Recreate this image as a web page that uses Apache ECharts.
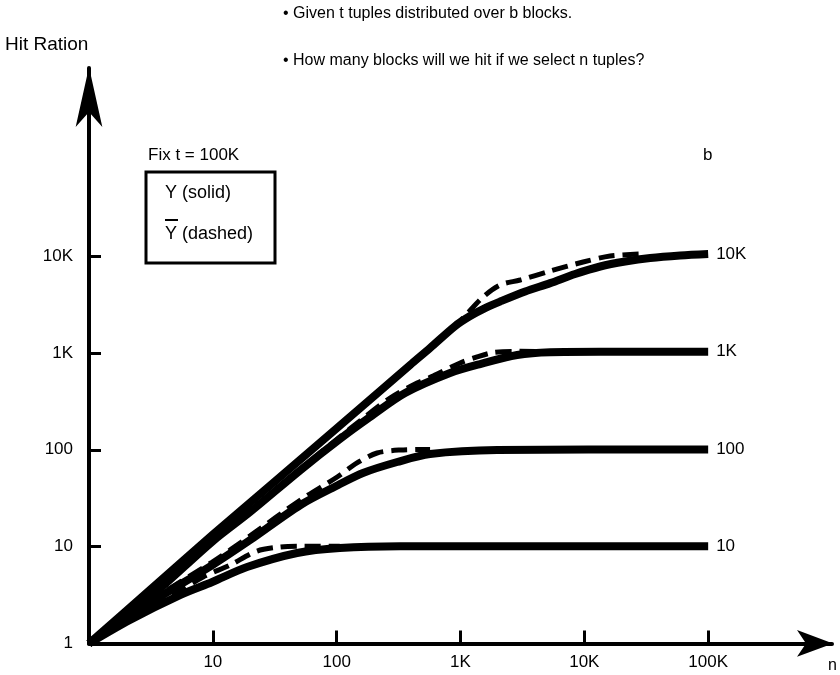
<!DOCTYPE html>
<html><head><meta charset="utf-8">
<script src="https://cdn.jsdelivr.net/npm/echarts@6/dist/echarts.min.js"></script>
<style>html,body{margin:0;padding:0;background:#fff}#c{width:840px;height:675px}</style>
</head><body><div id="c"></div>
<script>
// ---- data (n tuples selected -> blocks hit) ----
const xTickValues = [10, 100, 1000, 10000, 100000];
const yTickValues = [10, 100, 1000, 10000];
const yLabelValues = [1, 10, 100, 1000, 10000];
const blockNames = ['10K', '1K', '100', '10'];

const solid10K = [[1,1],[3.1,3.56],[9.9,13.2],[32,47.6],[103,172],[224,405],[392,752],[568,1127],[904,1900],[1196,2411],[1580,2916],[2090,3404],[3330,4318],[5300,5270],[8430,6550],[13430,7830],[21360,8810],[34040,9580],[59400,10170],[100000,10540]];
const dashed10K = [[1,1],[3.1,3.56],[9.9,13.2],[32,47.6],[103,172],[224,405],[392,752],[568,1127],[904,1900],[1089,2415],[1523,3793],[2090,5044],[3030,5675],[5300,7030],[9780,8710],[16150,10050],[28250,10540]];
const solid1K = [[1,1],[3.1,3.0],[10,11.4],[20,22.8],[51,61.8],[106,129],[186,218],[357,386],[824,621],[1440,769],[2865,953],[5290,1020],[13400,1030],[100000,1030]];
const dashed1K = [[1,1],[3.1,3.0],[10,11.4],[20,22.8],[51,63],[106,136],[155,200],[270,343],[446,490],[601,578],[993,789],[1362,910],[1834,1010],[3030,1040],[6400,1030]];
const solid100 = [[1,1],[3.1,2.61],[9.9,6.45],[20,11.7],[51,26.9],[103,43.3],[163,57.6],[308,74.8],[568,90.5],[1976,99.5],[100000,101]];
const dashed100 = [[1,1],[3.1,2.74],[9.9,6.93],[20,12.9],[51,30.3],[101,52.4],[146,73.1],[212,92.7],[325,99.5],[568,101]];
const solid10 = [[1,1],[2.14,1.75],[5.43,3.16],[9.9,4.31],[18.9,6.15],[47.9,8.59],[106,9.68],[325,10.1],[100000,10.1]];
const dashed10 = [[1,1],[2.14,1.83],[4.77,3.16],[8.34,4.85],[13.8,6.45],[22.8,9.0],[34.9,9.9],[50.6,10.1],[106,10.1]];

const solidSets = [solid10K, solid1K, solid100, solid10];
const dashedSets = [dashed10K, dashed1K, dashed100, dashed10];

const FONT = '"Liberation Sans", Arial, Helvetica, sans-serif';
const fmt = v => v >= 1000 ? (v / 1000) + 'K' : String(v);

const series = [];
solidSets.forEach((d, i) => {
  series.push({
    name: blockNames[i], type: 'line', data: d, symbol: 'none', smooth: 0.3,
    lineStyle: { color: '#000', width: 8, cap: 'butt', join: 'round' },
    endLabel: { show: true, formatter: '{a}', color: '#000', fontSize: 17, fontFamily: FONT, distance: 8 },
    z: 3
  });
});
dashedSets.forEach((d, i) => {
  series.push({
    name: blockNames[i] + ' dashed', type: 'line', data: d, symbol: 'none', smooth: 0.3,
    lineStyle: { color: '#000', width: 5, type: [16, 8], cap: 'butt' },
    z: 4
  });
});

const chart = echarts.init(document.getElementById('c'), null, { renderer: 'canvas' });
chart.setOption({
  animation: false,
  backgroundColor: '#fff',
  grid: { left: 89, right: 8, top: 68, bottom: 31.6, containLabel: false, outerBoundsMode: 'none' },
  xAxis: {
    type: 'log', logBase: 10, min: 1, max: 1000000,
    axisLine: { lineStyle: { color: '#000', width: 4 }, symbol: ['none', 'arrow'], symbolSize: [20, 36], symbolOffset: [0, 1] },
    axisTick: { inside: true, length: 13, lineStyle: { color: '#000', width: 3 }, customValues: xTickValues },
    axisLabel: { color: '#000', fontSize: 17, fontFamily: FONT, margin: 10, formatter: fmt, customValues: xTickValues },
    splitLine: { show: false }
  },
  yAxis: {
    type: 'log', logBase: 10, min: 1, max: 880000,
    axisLine: { lineStyle: { color: '#000', width: 4 }, symbol: ['none', 'arrow'], symbolSize: [20, 60], symbolOffset: [0, 1] },
    axisTick: { inside: true, length: 12, lineStyle: { color: '#000', width: 3 }, customValues: yTickValues },
    axisLabel: { color: '#000', fontSize: 17, fontFamily: FONT, margin: 16, formatter: fmt, customValues: yLabelValues },
    splitLine: { show: false }
  },
  graphic: [
    { type: 'text', x: 5, y: 45, style: { text: 'Hit Ration', font: '19px ' + FONT, fill: '#000', verticalAlign: 'middle' } },
    { type: 'text', x: 283, y: 14, style: { text: '\u2022 Given t tuples distributed over b blocks.', font: '16px ' + FONT, fill: '#000', verticalAlign: 'middle' } },
    { type: 'text', x: 283, y: 61, style: { text: '\u2022 How many blocks will we hit if we select n tuples?', font: '16px ' + FONT, fill: '#000', verticalAlign: 'middle' } },
    { type: 'text', x: 148, y: 155, style: { text: 'Fix t = 100K', font: '17px ' + FONT, fill: '#000', verticalAlign: 'middle' } },
    { type: 'text', x: 703, y: 155, style: { text: 'b', font: '17px ' + FONT, fill: '#000', verticalAlign: 'middle' } },
    { type: 'text', x: 828, y: 666, style: { text: 'n', font: '16px ' + FONT, fill: '#000', verticalAlign: 'middle' } },
    { type: 'rect', shape: { x: 146, y: 172, width: 129, height: 91 }, style: { fill: 'none', stroke: '#000', lineWidth: 3 } },
    { type: 'text', x: 165, y: 193, style: { text: 'Y (solid)', font: '18px ' + FONT, fill: '#000', verticalAlign: 'middle' } },
    { type: 'text', x: 165, y: 234, style: { text: 'Y (dashed)', font: '18px ' + FONT, fill: '#000', verticalAlign: 'middle' } },
    { type: 'line', shape: { x1: 165, y1: 220, x2: 178, y2: 220 }, style: { stroke: '#000', lineWidth: 2 } }
  ],
  series: series
});
</script>
</body></html>
